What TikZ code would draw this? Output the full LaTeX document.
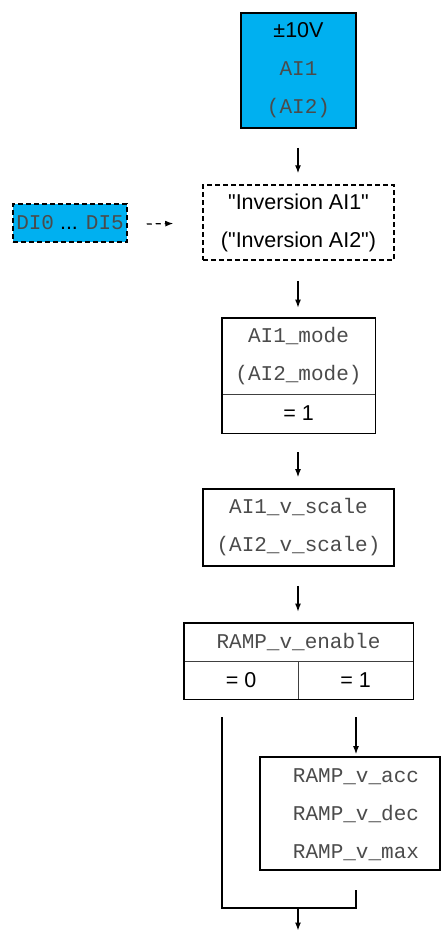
\documentclass[tikz,border=0pt]{standalone}
\usepackage{fontspec}
\setmainfont{Liberation Sans}
\newfontfamily\monof{Liberation Mono}
\usetikzlibrary{arrows.meta,calc}
\definecolor{boxblue}{RGB}{0,176,240}
\definecolor{monogray}{RGB}{75,75,75}
\newcommand\mt[1]{{\monof\fontsize{21}{38}\selectfont\color{monogray}#1}}
\newcommand\qq{\textquotedbl}
\begin{document}
\begin{tikzpicture}[x=1pt,y=-1pt,
  frame/.style={draw=black,line width=1.8pt,inner sep=0pt,align=center,font=\fontsize{21.5}{38}\selectfont},
  dframe/.style={frame,line width=1.5pt,dash pattern=on 5pt off 3pt},
  cell/.style={draw=black!75,line width=0.8pt,inner sep=0pt,align=center,font=\fontsize{21.5}{38}\selectfont},
  txt/.style={inner sep=0pt,align=center,font=\fontsize{21.5}{38}\selectfont},
  outer/.style={draw=black,line width=1.8pt},
  arr/.style={line width=1.2pt,-{Latex[length=8pt,width=6pt]}},
  darr/.style={arr,dash pattern=on 5pt off 4pt},
  wire/.style={line width=1.2pt}]
\useasboundingbox (0,0) rectangle (441,931);
% source
\node[frame,fill=boxblue,minimum width=115pt,minimum height=115pt] (src) at (298.5,70.5)
  {±10V\\\mt{AI1}\\\mt{(AI2)}};
% inversion
\node[dframe,minimum width=191pt,minimum height=75pt] (inv) at (298.5,222.5)
  {\qq Inversion AI1\qq\\(\qq Inversion AI2\qq)};
\node[dframe,fill=boxblue,minimum width=114pt,minimum height=38pt] (di) at (70,223)
  {\mt{DI0} ... \mt{DI5}};
\draw[darr] ($(di.east)+(19,1)$) -- ($(inv.west)+(-29,1)$);
\draw[arr] ($(src.south)+(-0.5,19)$) -- ($(inv.north)+(-0.5,-11)$);
% mode
\node[cell,minimum width=153pt,minimum height=76pt] (modeA) at (298.5,356) {\mt{AI1\_mode}\\\mt{(AI2\_mode)}};
\node[cell,minimum width=153pt,minimum height=39pt] (modeB) at (298.5,413.5) {= 1};
\draw[outer] (modeA.north west) rectangle (modeB.south east);
\draw[arr] ($(inv.south)+(-0.5,20)$) -- ($(modeA.north)+(-0.5,-10)$);
% scale
\node[frame,minimum width=191pt,minimum height=77pt] (scale) at (298.5,527.5) {\mt{AI1\_v\_scale}\\\mt{(AI2\_v\_scale)}};
\draw[arr] ($(modeB.south)+(-0.5,19)$) -- ($(scale.north)+(-0.5,-11)$);
% ramp enable
\node[cell,minimum width=229pt,minimum height=38pt] (enA) at (298.5,642) {\mt{RAMP\_v\_enable}};
\node[cell,minimum width=114pt,minimum height=38pt] (enL) at (241,680) {= 0};
\node[cell,minimum width=115pt,minimum height=38pt] (enR) at (355.5,680) {= 1};
\draw[outer] (enA.north west) rectangle (enR.south east);
\draw[arr] ($(scale.south)+(-0.5,19)$) -- ($(enA.north)+(-0.5,-11)$);
% ramp params
\node[frame,minimum width=180pt,minimum height=113pt] (ramp) at (350,813.5) {};
\node[txt] (rampt) at (356,815) {\mt{RAMP\_v\_acc}\\\mt{RAMP\_v\_dec}\\\mt{RAMP\_v\_max}};
\coordinate (rin) at (356,717);
\draw[arr] (rin) -- ($(ramp.north)+(6,-2)$);
% merge
\coordinate (L1) at (222,717);
\coordinate (L2) at (222,908);
\coordinate (R2) at (356,908);
\coordinate (R1) at ($(ramp.south)+(6,19)$);
\coordinate (M) at (298,908);
\coordinate (out) at (298,930.5);
\draw[wire] (L1) -- (L2) -- (R2) -- (R1);
\draw[arr] (M) -- (out);
\end{tikzpicture}
\end{document}
